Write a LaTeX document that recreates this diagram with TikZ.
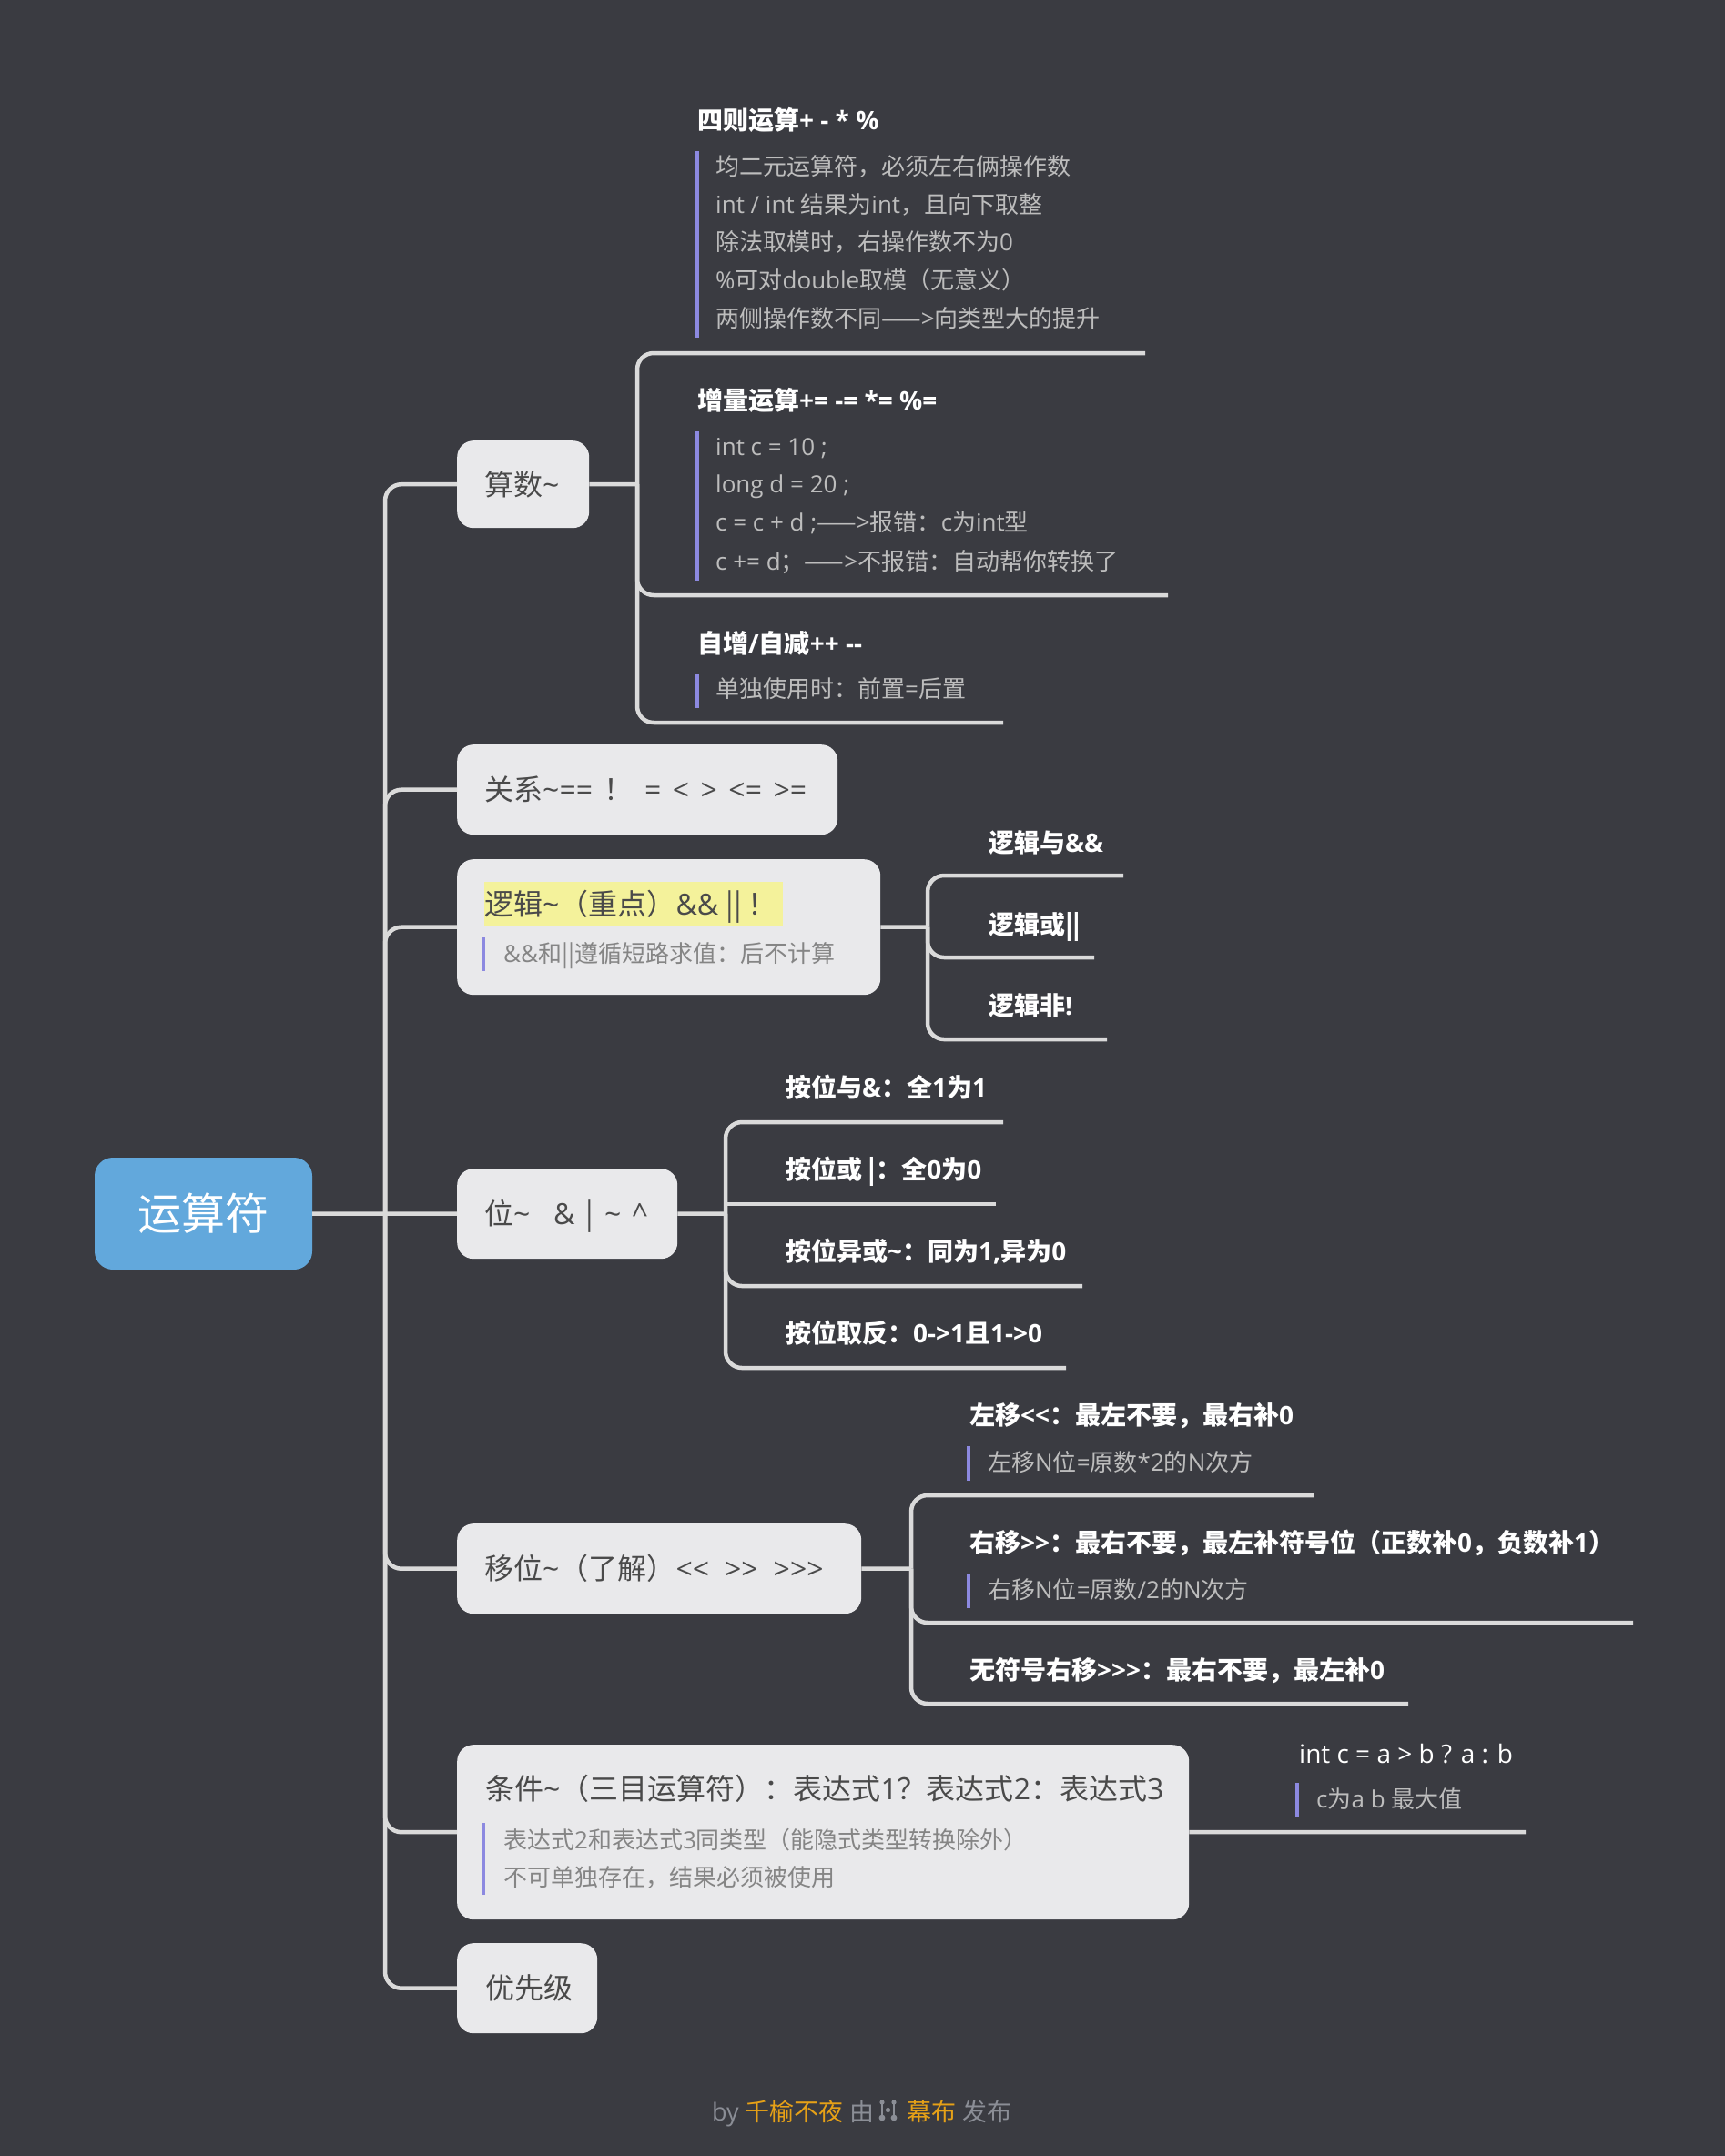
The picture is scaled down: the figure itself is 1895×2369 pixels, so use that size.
\documentclass[tikz,border=0pt]{standalone}
\usepackage{fontspec}
\newfontfamily\latf{Open Sans}
\newfontfamily\cjkf{Noto Sans CJK SC}
\def\tld{\string~}
\def\amp{\string&}
\def\crt{\string^}
\XeTeXinterchartokenstate=1
\newXeTeXintercharclass\cjkcls
\newcount\cjkcc
\def\setcjkrange#1#2{\cjkcc=#1\relax\loop\XeTeXcharclass\cjkcc=\cjkcls\relax\ifnum\cjkcc<#2\relax\advance\cjkcc by 1\relax\repeat}
\setcjkrange{"4E00}{"9FFF}
\setcjkrange{"3000}{"303F}
\setcjkrange{"FF00}{"FFEF}
\setcjkrange{"2014}{"2014}
\setcjkrange{"007C}{"007C}
\XeTeXinterchartoks 0 \cjkcls = {\cjkf}
\XeTeXinterchartoks 4095 \cjkcls = {\cjkf}
\XeTeXinterchartoks \cjkcls 0 = {\latf}
\XeTeXinterchartoks 4095 0 = {\latf}
\definecolor{bgC}{HTML}{3A3B41}
\definecolor{lineC}{HTML}{DADADA}
\definecolor{boxC}{HTML}{E9E9EB}
\definecolor{boxT}{HTML}{4A4A4A}
\definecolor{boxN}{HTML}{858585}
\definecolor{noteC}{HTML}{BDBDBD}
\definecolor{barC}{HTML}{8C89E0}
\definecolor{hlC}{HTML}{F4F29B}
\definecolor{rootC}{HTML}{62A8DC}
\definecolor{orgC}{HTML}{E6A117}
\definecolor{footC}{HTML}{8B8E96}
\tikzset{
 conn/.style={draw=lineC, line width=4.5pt, rounded corners=18pt},
 sharpconn/.style={draw=lineC, line width=4.5pt},
 bar/.style={draw=barC, line width=4.5pt},
 lbox/.style={fill=boxC, rounded corners=18pt, inner sep=0pt, anchor=north west},
 btext/.style={anchor=west, inner sep=0pt, text=boxT, font=\latf\fontsize{32}{38}\selectfont, text height=24pt, text depth=0pt},
 bnote/.style={anchor=west, inner sep=0pt, text=boxN, font=\latf\fontsize{26}{32}\selectfont, text height=19.5pt, text depth=0pt},
 ttl/.style={anchor=west, inner sep=0pt, text=white, font=\latf\bfseries\fontsize{28}{34}\selectfont, text height=21pt, text depth=0pt},
 nt/.style={anchor=west, inner sep=0pt, text=noteC, font=\latf\fontsize{26}{32}\selectfont, text height=19.5pt, text depth=0pt},
 foot/.style={inner sep=0pt, text=footC, font=\latf\fontsize{27}{32}\selectfont, text height=20pt, text depth=0pt},
}
\begin{document}
\begin{tikzpicture}[x=1pt,y=-1pt]
\useasboundingbox (0,0) rectangle (1895,2369);
\fill[bgC] (0,0) rectangle (1895,2369);

% root
\node[fill=rootC, rounded corners=20pt, minimum width=239pt, minimum height=123pt, inner sep=0pt, text=white, font=\cjkf\fontsize{48}{56}\selectfont] (root) at (223.5,1333.5) {运算符};

% level-1 boxes
\node[lbox, minimum width=145pt, minimum height=96pt] (bsuan) at (502,484) {};
\node[btext] (tsuan) at (532,532) {算数\tld};
\node[lbox, minimum width=418pt, minimum height=99pt] (bguan) at (502,818) {};
\node[btext] (tguan) at (532,867.5) {\spaceskip=12.5pt\relax 关系\tld== ！ = < > <= >=};
\node[lbox, minimum width=465pt, minimum height=149pt] (bluo) at (502,944) {};
\node[btext, fill=hlC, inner ysep=12pt, inner xsep=0pt] (tluo) at (532,993) {逻辑\tld（重点）\amp\amp{} || ！\kern6pt};
\node[bnote] (nluo) at (553,1048) {\amp\amp 和||遵循短路求值：后不计算};
\draw[bar] (531,1030) -- (531,1067);
\node[lbox, minimum width=242pt, minimum height=99pt] (bwei) at (502,1284) {};
\node[btext] (twei) at (532,1333.5) {\spaceskip=12pt\relax 位\tld\hspace{0.8em}\amp{} | \tld{} \crt};
\node[lbox, minimum width=444pt, minimum height=99pt] (byi) at (502,1674) {};
\node[btext] (tyi) at (532,1723.5) {\spaceskip=17pt\relax 移位\tld（了解）<< >> >>>};
\node[lbox, minimum width=804pt, minimum height=192pt] (btiao) at (502,1917) {};
\node[btext] (ttiao) at (533,1965) {条件\tld（三目运算符）：表达式1？表达式2：表达式3};
\node[bnote] (ntiao1) at (553,2022) {表达式2和表达式3同类型（能隐式类型转换除外）};
\node[bnote] (ntiao2) at (553,2063) {不可单独存在，结果必须被使用};
\draw[bar] (531,2003) -- (531,2082);
\node[lbox, minimum width=154pt, minimum height=99pt] (byou) at (502,2135) {};
\node[btext] (tyou) at (533,2184.5) {优先级};

% trunk
\coordinate (trunk) at (423,1333.5);
\draw[sharpconn] (root.east) -- (bwei.west);
\draw[conn] (trunk) |- (bsuan.west);
\draw[conn] (trunk) |- (bguan.west);
\draw[conn] (trunk) |- (bluo.west);
\draw[conn] (trunk) |- (byi.west);
\draw[conn] (trunk) |- (btiao.west);
\draw[conn] (trunk) |- (byou.west);

% suan subtree
\coordinate (vS) at (700,532);
\coordinate (eS1) at (1258,388);
\coordinate (eS2) at (1283,654);
\coordinate (eS3) at (1102,794);
\draw[sharpconn] (bsuan.east) -- (vS);
\draw[conn] (vS) |- (eS1);
\draw[conn] (vS) |- (eS2);
\draw[conn] (vS) |- (eS3);
\node[ttl] (s1) at (766,132) {四则运算+ - * \%};
\draw[bar] (766,166) -- (766,371);
\node[nt] (s1a) at (786,183) {均二元运算符，必须左右俩操作数};
\node[nt] (s1b) at (786,225) {int / int 结果为int，且向下取整};
\node[nt] (s1c) at (786,266) {除法取模时，右操作数不为0};
\node[nt] (s1d) at (786,308) {\%可对double取模（无意义）};
\node[nt] (s1e) at (786,350) {两侧操作数不同——>向类型大的提升};
\node[ttl] (s2) at (766,440) {增量运算+= -= *= \%=};
\draw[bar] (766,474) -- (766,638);
\node[nt] (s2a) at (786,491) {int c = 10 ;};
\node[nt] (s2b) at (786,532) {long d = 20 ;};
\node[nt] (s2c) at (786,574) {c = c + d ;——>报错：c为int型};
\node[nt] (s2d) at (786,617) {c += d；——>不报错：自动帮你转换了};
\node[ttl] (s3) at (766,707) {自增/自减++ -{}-};
\draw[bar] (766,741) -- (766,778);
\node[nt] (s3a) at (786,757) {单独使用时：前置=后置};

% luo subtree
\coordinate (vL) at (1019,1018.5);
\coordinate (eL1) at (1234,962);
\coordinate (eL2) at (1202,1052);
\coordinate (eL3) at (1216,1142);
\draw[sharpconn] (bluo.east) -- (vL);
\draw[conn] (vL) |- (eL1);
\draw[conn] (vL) |- (eL2);
\draw[conn] (vL) |- (eL3);
\node[ttl] (l1) at (1086,926) {逻辑与\amp\amp};
\node[ttl] (l2) at (1086,1016) {逻辑或||};
\node[ttl] (l3) at (1086,1105) {逻辑非!};

% wei subtree
\coordinate (vB) at (797,1333.5);
\coordinate (eB1) at (1102,1233);
\coordinate (eB2) at (1094,1323);
\coordinate (eB3) at (1189,1413);
\coordinate (eB4) at (1171,1503);
\draw[sharpconn] (bwei.east) -- (vB);
\draw[conn] (vB) |- (eB1);
\draw[sharpconn] (vB) |- (eB2);
\draw[conn] (vB) |- (eB3);
\draw[conn] (vB) |- (eB4);
\node[ttl] (w1) at (863,1195) {按位与\amp：全1为1};
\node[ttl] (w2) at (863,1285) {按位或 |：全0为0};
\node[ttl] (w3) at (863,1375) {按位异或\tld：同为1,异为0};
\node[ttl] (w4) at (863,1465) {按位取反：0->1且1->0};

% yi subtree
\coordinate (vY) at (1001,1723.5);
\coordinate (eY1) at (1443,1643);
\coordinate (eY2) at (1794,1783);
\coordinate (eY3) at (1547,1872);
\draw[sharpconn] (byi.east) -- (vY);
\draw[conn] (vY) |- (eY1);
\draw[conn] (vY) |- (eY2);
\draw[conn] (vY) |- (eY3);
\node[ttl] (y1) at (1065,1555) {左移<<：最左不要，最右补0};
\draw[bar] (1064,1589) -- (1064,1627);
\node[nt] (y1a) at (1085,1607) {左移N位=原数*2的N次方};
\node[ttl] (y2) at (1065,1695) {右移>>：最右不要，最左补符号位（正数补0，负数补1）};
\draw[bar] (1064,1729) -- (1064,1767);
\node[nt] (y2a) at (1085,1747) {右移N位=原数/2的N次方};
\node[ttl] (y3) at (1065,1835) {无符号右移>>>：最右不要，最左补0};

% tiao subtree
\coordinate (eC) at (1676,2013);
\draw[sharpconn] (btiao.east) -- (eC);
\node[ttl, font=\latf\mdseries\fontsize{28}{34}\selectfont] (c1) at (1427,1927) {int c = a > b ? a : b};
\draw[bar] (1425,1959) -- (1425,1997);
\node[nt] (c1a) at (1446,1977) {c为a b 最大值};

% footer
\node[foot, anchor=east] (f1) at (961,2320) {by \textcolor{orgC}{千榆不夜} 由};
\node[foot, anchor=west] (f2) at (996,2320) {\textcolor{orgC}{幕布} 发布};
\fill[footC] (969,2310) circle (2.6pt) (969,2327) circle (3.4pt) (975.5,2318.5) circle (2.6pt) (982,2310) circle (2.6pt) (982,2327) circle (3.4pt);
\draw[footC, line width=2.2pt] (969,2310) -- (969,2327) (982,2310) -- (982,2327);
\end{tikzpicture}
\end{document}
